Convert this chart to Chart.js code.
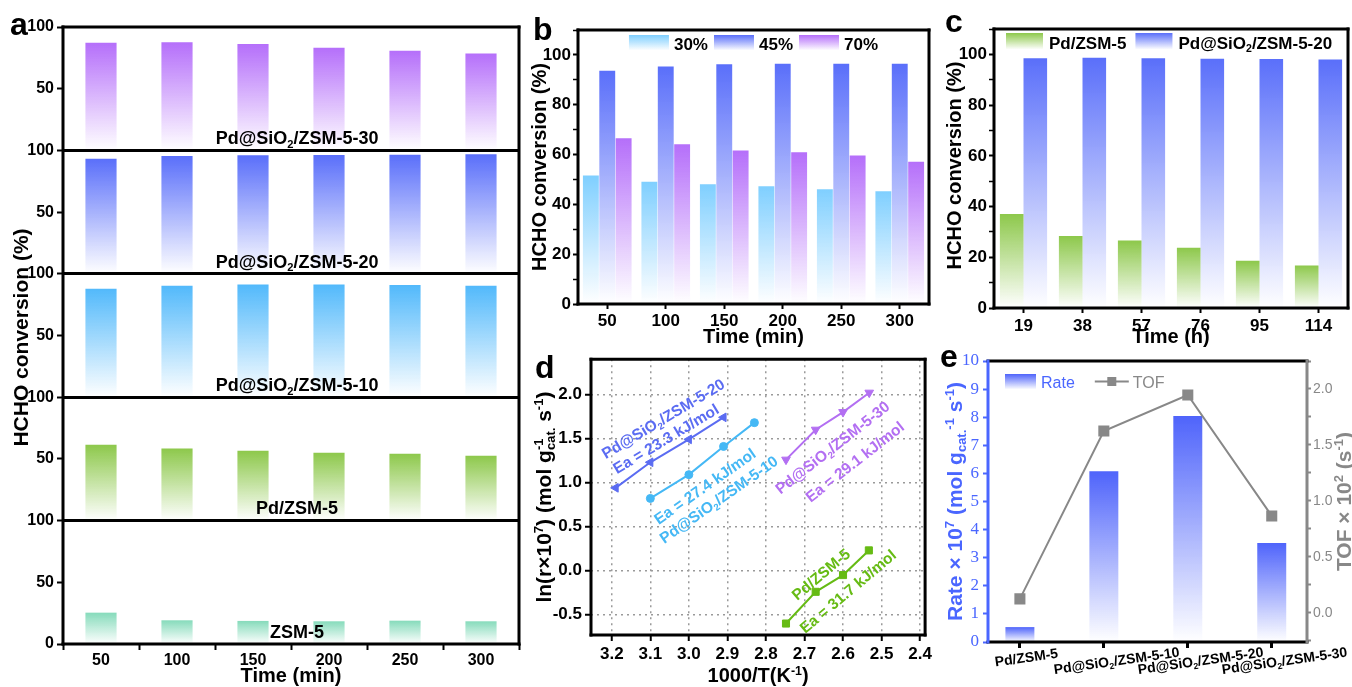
<!DOCTYPE html>
<html>
<head>
<meta charset="utf-8">
<script src="https://cdn.jsdelivr.net/npm/chart.js@4.4.0/dist/chart.umd.min.js"></script>
<style>
  html, body { margin: 0; padding: 0; background: #fff; }
  #wrap { position: relative; width: 1352px; height: 687px; overflow: hidden; }
  canvas { position: absolute; }
</style>
</head>
<body>
<div id="wrap">
  <canvas id="cA" width="522" height="687" style="left:0;top:0"></canvas>
  <canvas id="cB" width="413" height="352" style="left:522px;top:0"></canvas>
  <canvas id="cC" width="417" height="352" style="left:935px;top:0"></canvas>
  <canvas id="cD" width="413" height="341" style="left:522px;top:346px"></canvas>
  <canvas id="cE" width="417" height="341" style="left:935px;top:346px"></canvas>
</div>
<script>
// ---- data ----
// a: conversion vs time for each catalyst
const timeMin = ['50', '100', '150', '200', '250', '300'];
const aSamples = ['ZSM-5', 'Pd/ZSM-5', 'Pd@SiO_{2}/ZSM-5-10', 'Pd@SiO_{2}/ZSM-5-20', 'Pd@SiO_{2}/ZSM-5-30'];
const convZSM5 = [25.4, 19.2, 18.7, 18.4, 18.9, 18.4];
const convPdZSM5 = [61.5, 58.5, 56.7, 55.0, 54.2, 52.6];
const convSi10 = [87.9, 90.3, 91.4, 91.4, 90.9, 90.3];
const convSi20 = [93.3, 95.4, 96.0, 96.2, 96.5, 96.8];
const convSi30 = [87.2, 87.6, 86.2, 83.2, 80.7, 78.6];

// b: humidity
const humidity = ['30%', '45%', '70%'];
const convRH30 = [51.6, 49.1, 48.1, 47.3, 46.1, 45.3];
const convRH45 = [93.6, 95.3, 96.3, 96.5, 96.5, 96.5];
const convRH70 = [66.5, 64.1, 61.6, 60.9, 59.6, 57.1];

// c: stability
const timeH = ['19', '38', '57', '76', '95', '114'];
const cSamples = ['Pd/ZSM-5', 'Pd@SiO_{2}/ZSM-5-20'];
const stabPdZSM5 = [37.1, 28.4, 26.6, 23.8, 18.6, 16.8];
const stabSi20 = [98.5, 98.7, 98.5, 98.3, 98.2, 98.0];

// d: Arrhenius
const dX_Si20 = [3.19, 3.10, 3.00, 2.91];
const dY_Si20 = [0.94, 1.23, 1.49, 1.74];
const dX_Si10 = [3.10, 3.00, 2.91, 2.83];
const dY_Si10 = [0.82, 1.09, 1.41, 1.68];
const dX_Si30 = [2.748, 2.671, 2.60, 2.532];
const dY_Si30 = [1.26, 1.60, 1.80, 2.02];
const dX_Pd = [2.748, 2.671, 2.60, 2.533];
const dY_Pd = [-0.60, -0.24, -0.05, 0.23];

// e: rate and TOF
const eCats = ['Pd/ZSM-5', 'Pd@SiO_{2}/ZSM-5-10', 'Pd@SiO_{2}/ZSM-5-20', 'Pd@SiO_{2}/ZSM-5-30'];
const eRate = [0.53, 6.08, 8.04, 3.52];
const eTOF = [0.125, 1.625, 1.946, 0.866];

// ---- helpers ----
const SANS = "'Liberation Sans', Arial, sans-serif";
const SERIF = "'Liberation Serif', 'Times New Roman', serif";
Chart.defaults.font.family = SANS;
Chart.defaults.color = '#000';

const tickFont = { size: 17, weight: 'bold', family: SANS };

function withAlpha(hex, a) {
  const n = parseInt(hex.slice(1), 16);
  return `rgba(${n >> 16},${(n >> 8) & 255},${n & 255},${a})`;
}

function fade(color, axis) {
  return c => {
    if (c.type !== 'data') return color;
    const ch = c.chart, s = ch.scales[axis];
    if (!s || !ch.chartArea) return color;
    const v = c.raw;
    const lo = Array.isArray(v) ? v[0] : 0;
    const hi = Array.isArray(v) ? v[1] : (typeof v === 'object' ? v.y : v);
    const y0 = s.getPixelForValue(hi), y1 = s.getPixelForValue(lo);
    if (!isFinite(y0) || !isFinite(y1) || y0 === y1) return color;
    const g = ch.ctx.createLinearGradient(0, y0, 0, y1);
    g.addColorStop(0, color);
    g.addColorStop(1, withAlpha(color, 0));
    return g;
  };
}

// tiny markup: ^{sup} _{sub}; a sub right after a sup is stacked under it
function parseRich(s) {
  const out = [];
  let i = 0, buf = '';
  while (i < s.length) {
    const ch = s[i];
    if ((ch === '^' || ch === '_') && s[i + 1] === '{') {
      if (buf) { out.push({ t: buf, m: 'n' }); buf = ''; }
      const j = s.indexOf('}', i);
      out.push({ t: s.slice(i + 2, j), m: ch === '^' ? 'sup' : 'sub' });
      i = j + 1;
    } else { buf += ch; i++; }
  }
  if (buf) out.push({ t: buf, m: 'n' });
  return out;
}

function layoutRich(ctx, str, f) {
  let x = 0, lastSup = null;
  const segs = [];
  parseRich(str).forEach(p => {
    const sz = p.m === 'n' ? f.size : f.size * 0.62;
    const font = `${f.weight || 'bold'} ${sz}px ${f.family || SANS}`;
    ctx.font = font;
    const w = ctx.measureText(p.t).width;
    const stack = p.m === 'sub' && lastSup;
    const sx = stack ? lastSup.x : x;
    const dy = p.m === 'sup' ? -f.size * 0.38 : p.m === 'sub' ? f.size * 0.2 : 0;
    segs.push({ t: p.t, font, x: sx, dy });
    if (stack) { x = Math.max(x, sx + w); lastSup = null; }
    else { x = sx + w; lastSup = p.m === 'sup' ? { x: sx } : null; }
  });
  return { segs, width: x };
}

function drawRich(ctx, str, x, y, o) {
  const L = layoutRich(ctx, str, o);
  ctx.save();
  ctx.translate(x, y);
  if (o.rot) ctx.rotate(o.rot * Math.PI / 180);
  const x0 = o.align === 'center' ? -L.width / 2 : o.align === 'right' ? -L.width : 0;
  const base = o.middle ? o.size * 0.36 : 0;
  ctx.fillStyle = o.color || '#000';
  ctx.textAlign = 'left';
  ctx.textBaseline = 'alphabetic';
  L.segs.forEach(s => { ctx.font = s.font; ctx.fillText(s.t, x0 + s.x, base + s.dy); });
  ctx.restore();
  return L.width;
}

function makeExtras(cfg) {
  return {
    id: 'extras',
    afterDraw(chart) {
      const ctx = chart.ctx, ca = chart.chartArea;
      ctx.save();
      if (cfg.frame) {
        const f = cfg.frame;
        ctx.lineWidth = 3;
        ctx.lineCap = 'square';
        const seg = (col, x1, y1, x2, y2) => {
          ctx.strokeStyle = col; ctx.beginPath(); ctx.moveTo(x1, y1); ctx.lineTo(x2, y2); ctx.stroke();
        };
        seg(f.top || '#000', ca.left, ca.top, ca.right, ca.top);
        seg(f.bottom || '#000', ca.left, ca.bottom, ca.right, ca.bottom);
        seg(f.left || '#000', ca.left, ca.top, ca.left, ca.bottom);
        seg(f.right || '#000', ca.right, ca.top, ca.right, ca.bottom);
      }
      (cfg.titles || []).forEach(t => {
        drawRich(ctx, t.text, t.x(ca), t.y(ca), { size: t.size, color: t.color, rot: t.rot, weight: t.weight, align: 'center', middle: true });
      });
      (cfg.notes || []).forEach(n => {
        const xs = chart.scales[n.xAxis || 'x'], ys = chart.scales[n.yAxis || 'y'];
        drawRich(ctx, n.text, xs.getPixelForValue(n.x), ys.getPixelForValue(n.y), {
          size: n.size, color: n.color, rot: n.rot, align: 'center', middle: n.middle !== false
        });
      });
      if (cfg.catLabels) {
        const c = cfg.catLabels, xs = chart.scales[c.axis || 'x'];
        c.labels.forEach((lab, i) => {
          const w = layoutRich(ctx, lab, { size: c.size }).width;
          const px = xs.getPixelForValue(i);
          drawRich(ctx, lab, px + c.dx + w * c.kx, ca.bottom + c.dy + w * c.ky, { size: c.size, rot: c.rot, align: 'center', middle: true });
        });
      }
      if (cfg.legend) {
        const L = cfg.legend;
        const font = { size: L.size, weight: L.weight || 'bold' };
        const widths = L.items.map(it => layoutRich(ctx, it.text, font).width);
        let total = 0;
        L.items.forEach((it, i) => { total += it.w + L.textGap + widths[i] + (i < L.items.length - 1 ? L.itemGap : 0); });
        let x = L.align === 'center' ? (ca.left + ca.right) / 2 - total / 2 : ca.left + L.dx;
        const y = ca.top + L.dy;
        L.items.forEach((it, i) => {
          if (it.kind === 'line') {
            ctx.strokeStyle = it.color; ctx.lineWidth = 2;
            ctx.beginPath(); ctx.moveTo(x, y + L.h / 2); ctx.lineTo(x + it.w, y + L.h / 2); ctx.stroke();
            ctx.fillStyle = it.color;
            ctx.fillRect(x + it.w / 2 - 4.5, y + L.h / 2 - 4.5, 9, 9);
          } else {
            const g = ctx.createLinearGradient(0, y, 0, y + L.h);
            g.addColorStop(0, it.color);
            g.addColorStop(1, withAlpha(it.color, 0.03));
            ctx.fillStyle = g;
            ctx.fillRect(x, y, it.w, L.h);
          }
          x += it.w + L.textGap;
          drawRich(ctx, it.text, x, y + L.h + (L.base || 0), { ...font, color: it.textColor || '#000' });
          x += widths[i] + L.itemGap;
        });
      }
      if (cfg.letter) {
        ctx.font = `bold 32px ${SANS}`;
        ctx.fillStyle = '#000';
        ctx.textAlign = 'left';
        ctx.textBaseline = 'alphabetic';
        ctx.fillText(cfg.letter.text, ca.left + cfg.letter.dx, ca.top + cfg.letter.dy);
      }
      ctx.restore();
    }
  };
}

const baseOpts = (pad) => ({
  responsive: false,
  animation: false,
  devicePixelRatio: 1,
  layout: { padding: pad },
  plugins: { legend: { display: false }, tooltip: { enabled: false } }
});

const mid = ca => (ca.top + ca.bottom) / 2;
const cx = ca => (ca.left + ca.right) / 2;

// ---- panel a ----
const aSeries = [convZSM5, convPdZSM5, convSi10, convSi20, convSi30];
const aColors = ['#86dbbb', '#8dc84b', '#52b9fb', '#5a6ffa', '#b56ffa'];
const aTickFont = { size: 16, weight: 'bold', family: SANS };

new Chart(document.getElementById('cA'), {
  type: 'bar',
  data: {
    labels: timeMin,
    datasets: aSeries.map((vals, k) => ({
      label: aSamples[k],
      data: vals.map(v => [k * 100, k * 100 + v]),
      backgroundColor: fade(aColors[k], 'y'),
      grouped: false,
      barPercentage: 0.41,
      categoryPercentage: 1
    }))
  },
  options: {
    ...baseOpts({ top: 27, right: 3, left: 0, bottom: 0 }),
    scales: {
      x: {
        offset: true,
        border: { display: false },
        grid: { offset: true, drawOnChartArea: false, tickLength: 6, tickColor: '#000', tickWidth: 2 },
        ticks: { font: aTickFont, color: '#000', padding: 1 },
        afterFit: s => { s.height = 43; }
      },
      y: {
        min: 0, max: 500,
        border: { display: false },
        grid: {
          color: c => (c.tick && c.tick.value % 100 === 0 && c.tick.value > 0 && c.tick.value < 500) ? '#000' : 'rgba(0,0,0,0)',
          lineWidth: 3, tickColor: '#000', tickWidth: 2, tickLength: 6
        },
        ticks: {
          stepSize: 50, font: aTickFont, color: '#000', padding: 3,
          callback: v => v === 0 ? '0' : (v % 100 === 0 ? '100' : '50')
        },
        afterFit: s => { s.width = 63; }
      }
    }
  },
  plugins: [makeExtras({
    frame: {},
    letter: { text: 'a', dx: -53, dy: 8 },
    titles: [
      { text: 'HCHO conversion (%)', x: ca => ca.left - 43, y: ca => mid(ca) + 2, rot: -90, size: 21 },
      { text: 'Time (min)', x: cx, y: ca => ca.bottom + 31, size: 20 }
    ],
    notes: aSamples.map((name, k) => ({ text: name, x: 2.58, y: k * 100 + 5, size: 18, middle: false }))
  })]
});

// ---- panel b ----
const bColors = ['#7fcfff', '#5a6ffa', '#b56ffa'];
const bSeries = [convRH30, convRH45, convRH70];

new Chart(document.getElementById('cB'), {
  type: 'bar',
  data: {
    labels: timeMin,
    datasets: bSeries.map((vals, k) => ({
      label: humidity[k],
      data: vals,
      backgroundColor: fade(bColors[k], 'y'),
      barPercentage: 0.97,
      categoryPercentage: 0.84
    }))
  },
  options: {
    ...baseOpts({ top: 30, right: 6, left: 0, bottom: 0 }),
    scales: {
      x: {
        offset: true,
        border: { display: false },
        grid: { offset: false, drawOnChartArea: false, tickLength: 5, tickColor: '#000', tickWidth: 2 },
        ticks: { font: tickFont, color: '#000', padding: 2 },
        afterFit: s => { s.height = 48; }
      },
      y: {
        min: 0, max: 110,
        border: { display: false },
        grid: { drawOnChartArea: false, tickLength: 5, tickColor: '#000', tickWidth: c => (c.tick && c.tick.value % 20 === 0) ? 2 : 1.5 },
        ticks: { stepSize: 10, includeBounds: false, font: tickFont, color: '#000', padding: 2, callback: v => v % 20 === 0 ? v : '' },
        afterFit: s => { s.width = 56; }
      }
    }
  },
  plugins: [makeExtras({
    frame: {},
    letter: { text: 'b', dx: -45, dy: 10 },
    titles: [
      { text: 'HCHO conversion (%)', x: ca => ca.left - 39.5, y: mid, rot: -90, size: 20 },
      { text: 'Time (min)', x: cx, y: ca => ca.bottom + 32, size: 20 }
    ],
    legend: {
      align: 'center', dy: 5, h: 15, size: 17, textGap: 5, itemGap: 6,
      items: humidity.map((t, k) => ({ text: t, color: bColors[k], w: 40 }))
    }
  })]
});

// ---- panel c ----
const cColors = ['#8dc84b', '#5a6ffa'];

new Chart(document.getElementById('cC'), {
  type: 'bar',
  data: {
    labels: timeH,
    datasets: [stabPdZSM5, stabSi20].map((vals, k) => ({
      label: cSamples[k],
      data: vals,
      backgroundColor: fade(cColors[k], 'y'),
      barPercentage: 1,
      categoryPercentage: 0.8
    }))
  },
  options: {
    ...baseOpts({ top: 29, right: 4, left: 0, bottom: 0 }),
    scales: {
      x: {
        offset: true,
        border: { display: false },
        grid: { offset: false, drawOnChartArea: false, tickLength: 5, tickColor: '#000', tickWidth: 2 },
        ticks: { font: tickFont, color: '#000', padding: 3 },
        afterFit: s => { s.height = 44; }
      },
      y: {
        min: 0, max: 110,
        border: { display: false },
        grid: { drawOnChartArea: false, tickLength: 5, tickColor: '#000', tickWidth: c => (c.tick && c.tick.value % 20 === 0) ? 2 : 1.5 },
        ticks: { stepSize: 10, includeBounds: false, font: tickFont, color: '#000', padding: 2, callback: v => v % 20 === 0 ? v : '' },
        afterFit: s => { s.width = 59; }
      }
    }
  },
  plugins: [makeExtras({
    frame: {},
    letter: { text: 'c', dx: -49, dy: 3 },
    titles: [
      { text: 'HCHO conversion (%)', x: ca => ca.left - 40.5, y: ca => mid(ca) - 3, rot: -90, size: 20 },
      { text: 'Time (h)', x: cx, y: ca => ca.bottom + 28, size: 20 }
    ],
    legend: {
      align: 'left', dx: 12, dy: 4, h: 16, size: 17, textGap: 6, itemGap: 9,
      items: cSamples.map((t, k) => ({ text: t, color: cColors[k], w: 37 }))
    }
  })]
});

// ---- panel d ----
const dBlue = '#5b6cf2', dSky = '#45b8f5', dPurple = '#b36ff2', dGreen = '#66bb14';
const pts = (xs, ys) => xs.map((x, i) => ({ x, y: ys[i] }));
const dLine = (label, xs, ys, color, style, r, rot) => ({
  label, data: pts(xs, ys), showLine: true,
  borderColor: color, backgroundColor: color, borderWidth: 2,
  pointStyle: style, pointRadius: r, pointRotation: rot || 0,
  pointBackgroundColor: color, pointBorderColor: color, pointBorderWidth: 1
});

new Chart(document.getElementById('cD'), {
  type: 'scatter',
  data: {
    datasets: [
      dLine('Pd@SiO2/ZSM-5-20', dX_Si20, dY_Si20, dBlue, 'triangle', 5, -90),
      dLine('Pd@SiO2/ZSM-5-10', dX_Si10, dY_Si10, dSky, 'circle', 4),
      dLine('Pd@SiO2/ZSM-5-30', dX_Si30, dY_Si30, dPurple, 'triangle', 5, 180),
      dLine('Pd/ZSM-5', dX_Pd, dY_Pd, dGreen, 'rect', 5)
    ]
  },
  options: {
    ...baseOpts({ top: 7, right: 6, left: 0, bottom: 0 }),
    scales: {
      x: {
        type: 'linear', reverse: true, min: 2.387, max: 3.254,
        border: { display: false, dash: [2, 4] },
        grid: { color: '#9a9a9a', lineWidth: 1.5, tickLength: 6, tickColor: '#000', tickWidth: 2 },
        ticks: { stepSize: 0.1, includeBounds: false, font: tickFont, color: '#000', padding: 3, callback: v => v.toFixed(1) },
        afterFit: s => { s.height = 52; }
      },
      y: {
        min: -0.73, max: 2.4,
        border: { display: false, dash: [2, 4] },
        grid: { color: '#9a9a9a', lineWidth: 1.5, tickLength: 6, tickColor: '#000', tickWidth: 2 },
        ticks: { stepSize: 0.5, includeBounds: false, font: tickFont, color: '#000', padding: 3, callback: v => v.toFixed(1) },
        afterFit: s => { s.width = 69; }
      }
    }
  },
  plugins: [makeExtras({
    frame: {},
    letter: { text: 'd', dx: -56, dy: 19 },
    titles: [
      { text: 'ln(r×10^{7}) (mol g^{-1}_{cat.} s^{-1})', x: ca => ca.left - 48, y: mid, rot: -90, size: 21 },
      { text: '1000/T(K^{-1})', x: cx, y: ca => ca.bottom + 40, size: 20 }
    ],
    notes: [
      { text: 'Pd@SiO_{2}/ZSM-5-20', x: 3.067, y: 1.728, rot: -31, size: 15.5, color: dBlue },
      { text: 'Ea = 23.3 kJ/mol', x: 3.060, y: 1.50, rot: -31, size: 15.5, color: dBlue },
      { text: 'Ea = 27.4 kJ/mol', x: 2.959, y: 0.961, rot: -35, size: 15.5, color: dSky },
      { text: 'Pd@SiO_{2}/ZSM-5-10', x: 2.923, y: 0.811, rot: -35, size: 15.5, color: dSky },
      { text: 'Pd@SiO_{2}/ZSM-5-30', x: 2.628, y: 1.40, rot: -38, size: 15.5, color: dPurple },
      { text: 'Ea = 29.1 kJ/mol', x: 2.570, y: 1.239, rot: -38, size: 15.5, color: dPurple },
      { text: 'Pd/ZSM-5', x: 2.658, y: -0.039, rot: -40, size: 15.5, color: dGreen },
      { text: 'Ea = 31.7 kJ/mol', x: 2.588, y: -0.233, rot: -40, size: 15.5, color: dGreen }
    ]
  })]
});

// ---- panel e ----
const eBlue = '#4f64fb', eAxisBlue = '#4a66ff', eGrey = '#888888';

new Chart(document.getElementById('cE'), {
  type: 'bar',
  data: {
    datasets: [
      {
        type: 'line', label: 'TOF', yAxisID: 'y2', order: 0,
        data: eTOF.map((v, i) => ({ x: i, y: v })),
        borderColor: eGrey, borderWidth: 2,
        pointStyle: 'rect', pointRadius: 6.4, pointBackgroundColor: eGrey, pointBorderColor: eGrey
      },
      {
        type: 'bar', label: 'Rate', yAxisID: 'y', order: 1,
        data: eRate.map((v, i) => ({ x: i, y: v })),
        backgroundColor: fade(eBlue, 'y'),
        barPercentage: 0.345, categoryPercentage: 1
      }
    ]
  },
  options: {
    ...baseOpts({ top: 15, right: 0, left: 0, bottom: 0 }),
    scales: {
      x: {
        type: 'linear', min: -0.38, max: 3.42, offset: false,
        border: { display: false },
        grid: { offset: false, drawOnChartArea: false, tickLength: 6, tickColor: '#000', tickWidth: 3 },
        ticks: { stepSize: 1, includeBounds: false, callback: () => '' },
        afterFit: s => { s.height = 45; }
      },
      y: {
        min: 0, max: 10,
        border: { display: false },
        grid: { drawOnChartArea: false, tickLength: 5, tickColor: eAxisBlue, tickWidth: 2 },
        ticks: {
          stepSize: 0.5, font: { size: 17, family: SERIF, weight: 'normal' }, color: eAxisBlue, padding: 4,
          callback: v => Number.isInteger(v) ? v : ''
        },
        afterFit: s => { s.width = 53; }
      },
      y2: {
        position: 'right', min: -0.26, max: 2.25,
        border: { display: false },
        grid: { drawOnChartArea: false, tickLength: 4, tickColor: eGrey, tickWidth: 2 },
        ticks: {
          stepSize: 0.25, includeBounds: false, font: { size: 14, family: SANS, weight: 'normal' }, color: eGrey, padding: 2,
          callback: v => Math.abs(v * 2 - Math.round(v * 2)) < 1e-6 ? v.toFixed(1) : ''
        },
        afterFit: s => { s.width = 45; }
      }
    }
  },
  plugins: [makeExtras({
    frame: { left: eAxisBlue, right: eGrey },
    letter: { text: 'e', dx: -48, dy: 6 },
    titles: [
      { text: 'Rate × 10^{7} (mol g_{cat.}^{-1} s^{-1})', x: ca => ca.left - 34, y: mid, rot: -90, size: 21, color: eAxisBlue },
      { text: 'TOF × 10^{2} (s^{-1})', x: ca => ca.right + 36.5, y: mid, rot: -90, size: 21, color: eGrey }
    ],
    catLabels: { labels: eCats, size: 14, rot: -8, dx: 0, kx: 0.1, dy: 12, ky: 0.05 },
    legend: {
      align: 'left', dx: 17, dy: 13, h: 15, size: 16, weight: 'normal', textGap: 5, itemGap: 21, base: -1,
      items: [
        { text: 'Rate', color: eBlue, w: 31, textColor: eAxisBlue },
        { text: 'TOF', color: eGrey, w: 32, kind: 'line', textColor: eGrey }
      ]
    }
  })]
});
</script>
</body>
</html>
